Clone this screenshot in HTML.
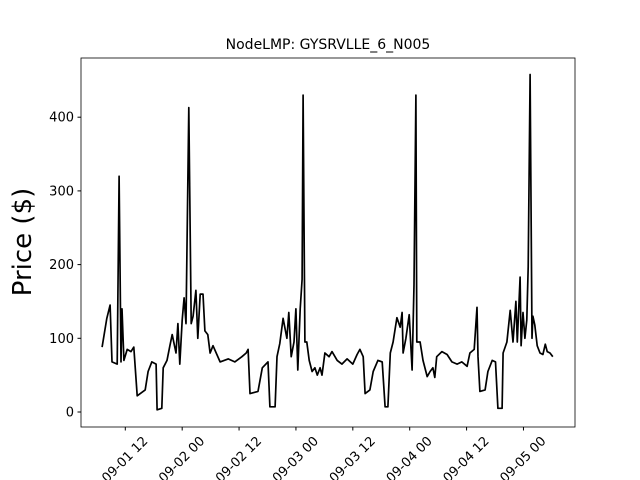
<!DOCTYPE html>
<html><head><meta charset="utf-8"><style>body{margin:0;background:#fff}svg{display:block}text{font-family:"DejaVu Sans","Liberation Sans",sans-serif}</style></head>
<body>
<svg id="chart" width="640" height="480">
<rect width="640" height="480" fill="#fff"/>
<text x="328" y="49" text-anchor="middle" font-size="14">NodeLMP: GYSRVLLE_6_N005</text>
<text transform="translate(31,242) rotate(-90)" text-anchor="middle" font-size="26">Price ($)</text>
<g id="axes"></g>
<path id="line" fill="none" stroke="#000" stroke-width="1.7" stroke-linejoin="round"/>
<rect x="81" y="58" width="494" height="369" fill="none" stroke="#000" stroke-width="0.8"/>
</svg>
<script>
const hours=[7.1,8.1,8.8,9.2,10.3,10.7,11.1,11.3,11.7,12.4,13.2,13.8,14.5,16.2,16.8,17.6,18.5,18.7,19.7,20.0,20.8,21.4,21.9,22.7,23.1,23.5,24.0,24.4,24.8,25.4,25.9,26.3,26.9,27.3,27.8,28.4,28.8,29.4,29.9,30.5,32.0,33.7,35.1,36.6,37.5,37.9,38.3,40.0,40.9,42.1,42.5,43.6,44.0,44.6,45.3,46.1,46.5,47.0,47.6,48.0,48.4,48.9,49.3,49.5,49.9,50.3,50.8,51.4,52.0,52.5,53.1,53.5,54.1,55.0,55.6,56.7,57.7,58.8,60.0,60.9,61.5,62.2,62.6,63.6,64.3,65.3,66.2,66.8,67.4,67.9,68.5,69.3,70.0,70.4,70.6,71.2,71.9,72.5,72.9,73.3,73.5,74.2,74.8,75.7,76.3,76.9,77.3,77.7,78.8,79.9,80.9,82.0,83.0,84.1,84.7,85.6,86.2,86.4,86.8,87.9,88.5,89.4,90.1,90.6,91.5,91.7,92.5,93.2,93.8,94.4,94.7,95.3,95.5,95.9,96.3,96.7,97.0,97.4,97.8,98.0,98.4,98.9,99.5,100.1,100.6,101.0,101.6,102.2];
const prices=[88,127,145,68,65,320,68,140,70,85,82,88,22,30,55,68,65,3,5,60,70,90,105,80,120,65,125,155,120,413,120,130,165,100,160,160,110,105,80,90,68,72,68,75,80,85,25,28,60,68,7,7,75,93,127,100,135,75,95,140,57,140,180,430,95,95,70,55,60,50,60,50,80,75,82,70,65,72,65,78,85,75,25,30,55,70,68,7,7,80,95,128,115,135,80,100,132,57,172,430,95,95,70,48,55,60,47,75,82,78,68,65,68,62,80,85,142,75,28,30,55,70,68,5,5,80,95,138,95,150,95,183,90,135,100,125,197,458,100,130,118,90,80,78,92,82,80,75];
const yTicks=[0,100,200,300,400];
const xTickHours=[12,24,36,48,60,72,84,96];
const xTickLabels=["09-01 12","09-02 00","09-02 12","09-03 00","09-03 12","09-04 00","09-04 12","09-05 00"];
const xs=h=>68.42+h*4.74, ys=v=>412-v*0.737;
const ns="http://www.w3.org/2000/svg", ax=document.getElementById('axes');
let d="";hours.forEach((h,i)=>{d+=(i?"L":"M")+xs(h).toFixed(1)+" "+ys(prices[i]).toFixed(1);});
document.getElementById('line').setAttribute('d',d);
yTicks.forEach(v=>{const y=ys(v);
 const l=document.createElementNS(ns,'line');l.setAttribute('x1',77.5);l.setAttribute('x2',81);l.setAttribute('y1',y);l.setAttribute('y2',y);l.setAttribute('stroke','#000');
 
 ax.appendChild(l);
 const t=document.createElementNS(ns,'text');t.setAttribute('x',74);t.setAttribute('y',y+4.5);t.setAttribute('text-anchor','end');t.setAttribute('font-size','13');t.textContent=v;
 
 ax.appendChild(t);});
xTickHours.forEach((h,i)=>{const x=xs(h);
 const l=document.createElementNS(ns,'line');l.setAttribute('x1',x);l.setAttribute('x2',x);l.setAttribute('y1',427);l.setAttribute('y2',430.5);l.setAttribute('stroke','#000');
 
 ax.appendChild(l);
 const t=document.createElementNS(ns,'text');t.setAttribute('transform','translate('+x+',460) rotate(-45)');t.setAttribute('text-anchor','middle');t.setAttribute('dominant-baseline','central');t.setAttribute('font-size','13');t.textContent=xTickLabels[i];
 
 ax.appendChild(t);});
</script>
</body></html>
